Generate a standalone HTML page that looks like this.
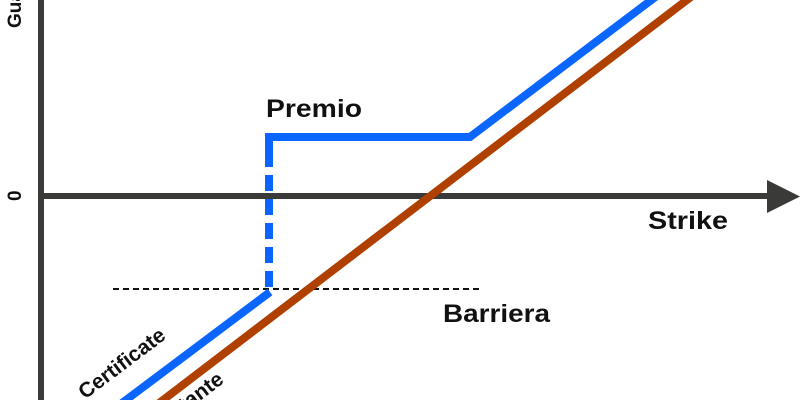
<!DOCTYPE html>
<html><head><meta charset="utf-8"><style>
html,body{margin:0;padding:0;background:#fff;overflow:hidden;width:800px;height:400px;}
svg{display:block;}
text{font-family:"Liberation Sans",sans-serif;font-weight:bold;fill:#111;}
</style></head><body>
<svg width="800" height="400" viewBox="0 0 800 400" xmlns="http://www.w3.org/2000/svg" overflow="hidden">
<line x1="41" y1="0" x2="41" y2="400" stroke="#3a3a38" stroke-width="6"/>
<line x1="41" y1="196" x2="772" y2="196" stroke="#3a3a38" stroke-width="6"/>
<polygon points="767,180 800,196.5 767,213" fill="#3a3a38"/>
<line x1="113" y1="289" x2="482" y2="289" stroke="#111" stroke-width="2" stroke-dasharray="6,4"/>
<line x1="150" y1="410" x2="700" y2="-10" stroke="#b04000" stroke-width="8"/>
<polyline points="110,412 270,292" fill="none" stroke="#0a66ff" stroke-width="8"/>
<line x1="269" y1="287" x2="269" y2="137" stroke="#0a66ff" stroke-width="8" stroke-dasharray="16,8"/>
<polyline points="269,152 269,137 470,137 662,-8" fill="none" stroke="#0a66ff" stroke-width="8"/>
<text x="266" y="117" font-size="25" textLength="96" lengthAdjust="spacingAndGlyphs">Premio</text>
<text x="443" y="322" font-size="25" textLength="107" lengthAdjust="spacingAndGlyphs">Barriera</text>
<text x="648" y="229" font-size="25" textLength="80" lengthAdjust="spacingAndGlyphs">Strike</text>
<text transform="translate(21,28) rotate(-90)" font-size="19">Guadagno</text>
<text transform="translate(21,201) rotate(-90)" font-size="19">0</text>
<text transform="translate(167,338) rotate(-37)" font-size="21" text-anchor="end">Certificate</text>
<text transform="translate(225,382) rotate(-37)" font-size="21" text-anchor="end">Sottostante</text>
</svg>
</body></html>
